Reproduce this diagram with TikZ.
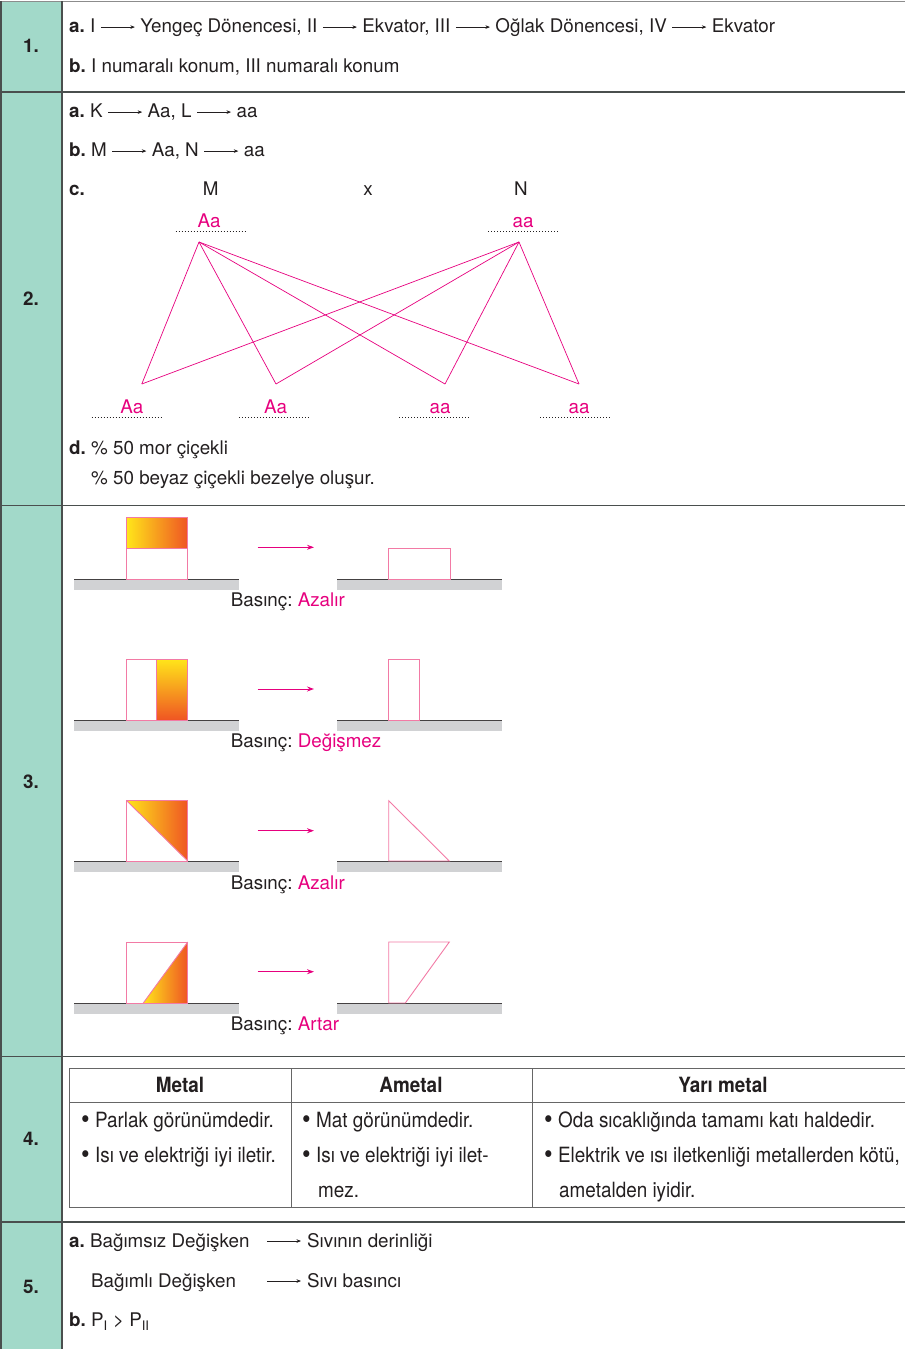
\documentclass[tikz,border=0pt]{standalone}
\usepackage{fontspec}
\setmainfont{TeX Gyre Heros}
\newfontfamily\narrowfont[FakeStretch=0.9]{TeX Gyre Heros}
\usetikzlibrary{arrows.meta}

\definecolor{teal1}{HTML}{A2D9C9}
\definecolor{frame}{HTML}{4A4F4E}
\definecolor{ink}{HTML}{231F20}
\definecolor{mag}{HTML}{E6007E}
\definecolor{pinkline}{HTML}{F27AA5}
\definecolor{ground}{HTML}{D1D2D4}
\definecolor{yel}{HTML}{FFE51A}
\definecolor{org}{HTML}{EF5523}

%% small inline arrow used in the answer lines
\newcommand{\sagok}{\tikz[baseline=-0.55ex]\draw[ink,line width=0.6pt,-{Stealth[length=4.5pt,width=3.6pt]}] (0,0) -- (34pt,0);}
%% bigger bullet for the table
\newcommand{\madde}{\raisebox{-0.12ex}{\scalebox{1.3}{\textbullet}}}

\begin{document}
\frenchspacing
\begin{tikzpicture}[x=1pt,y=-1pt,font=\fontsize{18.8}{22}\selectfont,
  txt/.style={anchor=base west,inner sep=0pt,text=ink},
  num/.style={anchor=base,inner sep=0pt,font=\fontsize{18.8}{22}\selectfont\bfseries,text=ink},
  gen/.style={anchor=base,inner sep=0pt,text=mag},
  dots/.style={ink,line width=1.2pt,dash pattern=on 1pt off 2pt},
  cross/.style={mag,line width=0.7pt},
  blockline/.style={pinkline,line width=0.9pt},
  parr/.style={mag,line width=0.9pt,-{Stealth[length=7pt,width=5pt]}},
  tarr/.style={ink,line width=0.6pt,-{Stealth[length=4.5pt,width=3.6pt]}},
  rowline/.style={frame,line width=1.4pt},
  tabline/.style={black!60,line width=0.8pt},
  cell/.style={txt,font=\fontsize{21}{24}\selectfont\narrowfont},
  head/.style={num,font=\fontsize{21}{24}\selectfont\narrowfont\bfseries}]
  \useasboundingbox (0,0) rectangle (905,1349);

  %% left column and row lines
  \fill[teal1] (1,1) rectangle (62,1349);
  \draw[black!45,line width=1pt] (0,1) -- (905,1);
  \foreach \r in {92,505.5,1056.5,1222} \draw[rowline] (0,\r) -- (905,\r);
  \draw[rowline] (1,1) -- (1,1349);
  \draw[rowline] (62,1) -- (62,1349);

  \node[num] (n1) at (31,52.5) {1.};
  \node[num] (n2) at (31,305.5) {2.};
  \node[num] (n3) at (31,788.5) {3.};
  \node[num] (n4) at (31,1145.5) {4.};
  \node[num] (n5) at (31,1293.5) {5.};

  %% 1.
  \node[txt] (r1a) at (69,32.5) {\textbf{a.} I \sagok{} Yengeç Dönencesi, II \sagok{} Ekvator, III \sagok{} Oğlak Dönencesi, IV \sagok{} Ekvator};
  \node[txt] (r1b) at (69,72.5) {\textbf{b.} I numaralı konum, III numaralı konum};

  %% 2.
  \node[txt] (r2a) at (69,117.5) {\textbf{a.} K \sagok{} Aa, L \sagok{} aa};
  \node[txt] (r2b) at (69,156.5) {\textbf{b.} M \sagok{} Aa, N \sagok{} aa};
  \node[txt] (r2c) at (69,195) {\textbf{c.}};
  \node[anchor=base,inner sep=0pt,text=ink] (pM) at (210.8,195) {M};
  \node[anchor=base,inner sep=0pt,text=ink] (px) at (368,195) {x};
  \node[anchor=base,inner sep=0pt,text=ink] (pN) at (521,195) {N};

  \node[gen] (gM) at (209,227.5) {Aa};
  \node[gen] (gN) at (523,227.5) {aa};
  \draw[dots] (175.6,231.7) -- (246.6,231.7);
  \draw[dots] (488,231.7) -- (559,231.7);

  \coordinate (tM) at (199,242);
  \coordinate (tN) at (519,242);
  \coordinate (k1) at (141.8,384);
  \coordinate (k2) at (276,384);
  \coordinate (k3) at (445,384);
  \coordinate (k4) at (579,384);
  \foreach \p in {tM,tN}
    \foreach \k in {k1,k2,k3,k4}
      \draw[cross] (\p) -- (\k);

  \node[gen] (g1) at (131.8,413) {Aa};
  \node[gen] (g2) at (275.5,413) {Aa};
  \node[gen] (g3) at (440,413) {aa};
  \node[gen] (g4) at (579,413) {aa};
  \draw[dots] (91.6,417.3) -- (162.3,417.3);
  \draw[dots] (238.8,417.3) -- (309.5,417.3);
  \draw[dots] (399,417.3) -- (470,417.3);
  \draw[dots] (540,417.3) -- (611,417.3);

  \node[txt] (r2d) at (69,454.5) {\textbf{d.} \% 50 mor çiçekli};
  \node[txt] (r2e) at (91,484.5) {\% 50 beyaz çiçekli bezelye oluşur.};

  %% 3. ground, arrows
  \foreach \g in {579,720,861,1003} {
    \fill[ground] (74,\g) rectangle (239,{\g+10.5});
    \fill[ground] (337,\g) rectangle (502,{\g+10.5});
    \draw[ink!85,line width=1pt] (74,\g) -- (239,\g);
    \draw[ink!85,line width=1pt] (337,\g) -- (502,\g);
  }
  \foreach \a in {547.3,689,830.7,971.7} \draw[parr] (257.7,\a) -- (314,\a);

  % lying block
  \shade[left color=yel,right color=org] (126.7,517.3) rectangle (187.7,548.3);
  \draw[blockline] (126.7,517.3) rectangle (187.7,579);
  \draw[blockline] (126.7,548.3) -- (187.7,548.3);
  \draw[blockline] (388.7,548.3) rectangle (450,579);
  \node[txt] (b1) at (230.7,606.5) {Basınç: \textcolor{mag}{Azalır}};

  % standing block
  \shade[top color=yel,bottom color=org] (156.7,659) rectangle (187.7,720);
  \draw[blockline] (126.7,659) rectangle (187.7,720);
  \draw[blockline] (156.7,659) -- (156.7,720);
  \draw[blockline] (388.7,659) rectangle (419.3,720);
  \node[txt] (b2) at (230.7,747.5) {Basınç: \textcolor{mag}{Değişmez}};

  % cut on the diagonal
  \shade[left color=yel,right color=org] (126.7,800.7) -- (187.7,800.7) -- (187.7,861) -- cycle;
  \draw[blockline] (126.7,800.7) rectangle (187.7,861);
  \draw[blockline] (126.7,800.7) -- (187.7,861);
  \draw[blockline] (388.7,800.7) -- (388.7,861) -- (449.3,861) -- cycle;
  \node[txt] (b3) at (230.7,889) {Basınç: \textcolor{mag}{Azalır}};

  % cut from the bottom
  \shade[left color=yel,right color=org] (143.3,1003) -- (187.7,942) -- (187.7,1003) -- cycle;
  \draw[blockline] (126.7,942) rectangle (187.7,1003);
  \draw[blockline] (143.3,1003) -- (187.7,942);
  \draw[blockline] (388.7,1003) -- (388.7,942) -- (449.3,942) -- (405.3,1003) -- cycle;
  \node[txt] (b4) at (230.7,1030) {Basınç: \textcolor{mag}{Artar}};

  %% 4. table
  \draw[tabline] (905,1068) -- (69,1068) -- (69,1207) -- (905,1207);
  \draw[tabline] (69,1102) -- (905,1102);
  \draw[tabline] (291,1068) -- (291,1207);
  \draw[tabline] (532,1068) -- (532,1207);
  \node[head] (h1) at (180,1092) {Metal};
  \node[head] (h2) at (411,1092) {Ametal};
  \node[head] (h3) at (723,1092) {Yarı metal};
  \node[cell] (m1) at (81,1127) {\madde{} Parlak görünümdedir.};
  \node[cell] (m2) at (81,1162) {\madde{} Isı ve elektriği iyi iletir.};
  \node[cell] (a1) at (302,1127) {\madde{} Mat görünümdedir.};
  \node[cell] (a2) at (302,1162) {\madde{} Isı ve elektriği iyi ilet-};
  \node[cell] (a3) at (318,1197) {mez.};
  \node[cell] (y1) at (544,1127) {\madde{} Oda sıcaklığında tamamı katı haldedir.};
  \node[cell] (y2) at (544,1162) {\madde{} Elektrik ve ısı iletkenliği metallerden kötü,};
  \node[cell] (y3) at (559,1197) {ametalden iyidir.};

  %% 5.
  \node[txt] (r5a) at (69,1247.5) {\textbf{a.} Bağımsız Değişken};
  \node[txt] (r5b) at (91,1287.5) {Bağımlı Değişken};
  \coordinate (s1) at (267,1241);
  \coordinate (e1) at (301,1241);
  \coordinate (s2) at (267,1281);
  \coordinate (e2) at (301,1281);
  \draw[tarr] (s1) -- (e1);
  \draw[tarr] (s2) -- (e2);
  \node[txt] (v1) at (307,1247.5) {Sıvının derinliği};
  \node[txt] (v2) at (307,1287.5) {Sıvı basıncı};
  \node[txt] (r5c) at (69,1326.5) {\textbf{b.} P\textsubscript{I} > P\textsubscript{II}};
\end{tikzpicture}
\end{document}
